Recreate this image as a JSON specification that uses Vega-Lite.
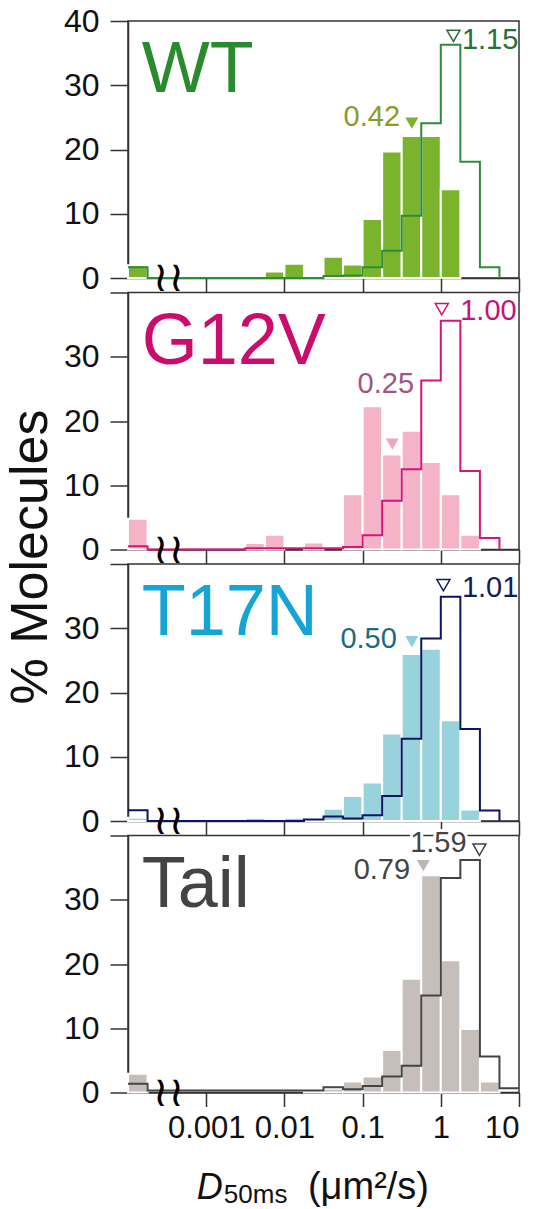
{
 "$schema": "https://vega.github.io/schema/vega-lite/v6.json",
 "padding": {"left": 3, "top": 4, "right": 5, "bottom": 0},
 "background": "white",
 "bounds": "flush",
 "spacing": 14.5,
 "config": {
  "font": "Liberation Sans",
  "view": {"stroke": "#333333", "strokeWidth": 1.5},
  "axis": {"domainColor": "#333333", "domainWidth": 1.5, "tickColor": "#333333", "tickWidth": 1.5, "labelColor": "#111111", "labelFont": "Liberation Sans", "grid": false, "zindex": 1, "titleFont": "Liberation Sans", "titleFontWeight": "normal", "titleColor": "#111111"},
  "axisY": {"tickSize": 18, "labelFontSize": 32, "labelPadding": 11},
  "axisX": {"tickSize": 14, "labelFontSize": 31, "labelPadding": 7},
  "text": {"font": "Liberation Sans"}
 },
 "datasets": {
  "bars": [
   {"panel": "WT", "x": 0.0001, "x2": 0.000177828, "y": 2.0},
   {"panel": "WT", "x": 0.00562341, "x2": 0.01, "y": 1.0},
   {"panel": "WT", "x": 0.01, "x2": 0.0177828, "y": 2.2},
   {"panel": "WT", "x": 0.0316228, "x2": 0.0562341, "y": 3.3},
   {"panel": "WT", "x": 0.0562341, "x2": 0.1, "y": 2.1},
   {"panel": "WT", "x": 0.1, "x2": 0.177828, "y": 9.2},
   {"panel": "WT", "x": 0.177828, "x2": 0.316228, "y": 19.7},
   {"panel": "WT", "x": 0.316228, "x2": 0.562341, "y": 22.1},
   {"panel": "WT", "x": 0.562341, "x2": 1, "y": 22.1},
   {"panel": "WT", "x": 1, "x2": 1.77828, "y": 13.8},
   {"panel": "G12V", "x": 0.0001, "x2": 0.000177828, "y": 4.8},
   {"panel": "G12V", "x": 0.00316228, "x2": 0.00562341, "y": 1.0},
   {"panel": "G12V", "x": 0.00562341, "x2": 0.01, "y": 2.3},
   {"panel": "G12V", "x": 0.0177828, "x2": 0.0316228, "y": 1.1},
   {"panel": "G12V", "x": 0.0562341, "x2": 0.1, "y": 8.6},
   {"panel": "G12V", "x": 0.1, "x2": 0.177828, "y": 22.3},
   {"panel": "G12V", "x": 0.177828, "x2": 0.316228, "y": 14.8},
   {"panel": "G12V", "x": 0.316228, "x2": 0.562341, "y": 18.5},
   {"panel": "G12V", "x": 0.562341, "x2": 1, "y": 13.6},
   {"panel": "G12V", "x": 1, "x2": 1.77828, "y": 8.6},
   {"panel": "G12V", "x": 1.77828, "x2": 3.16228, "y": 2.3},
   {"panel": "T17N", "x": 0.0001, "x2": 0.000177828, "y": 0.5},
   {"panel": "T17N", "x": 0.00316228, "x2": 0.00562341, "y": 0.5},
   {"panel": "T17N", "x": 0.01, "x2": 0.0177828, "y": 0.5},
   {"panel": "T17N", "x": 0.0177828, "x2": 0.0316228, "y": 0.3},
   {"panel": "T17N", "x": 0.0316228, "x2": 0.0562341, "y": 1.9},
   {"panel": "T17N", "x": 0.0562341, "x2": 0.1, "y": 3.9},
   {"panel": "T17N", "x": 0.1, "x2": 0.177828, "y": 6.0},
   {"panel": "T17N", "x": 0.177828, "x2": 0.316228, "y": 13.6},
   {"panel": "T17N", "x": 0.316228, "x2": 0.562341, "y": 26.0},
   {"panel": "T17N", "x": 0.562341, "x2": 1, "y": 26.8},
   {"panel": "T17N", "x": 1, "x2": 1.77828, "y": 15.7},
   {"panel": "T17N", "x": 1.77828, "x2": 3.16228, "y": 1.8},
   {"panel": "Tail", "x": 0.0001, "x2": 0.000177828, "y": 2.9},
   {"panel": "Tail", "x": 0.0177828, "x2": 0.0316228, "y": 0.3},
   {"panel": "Tail", "x": 0.0316228, "x2": 0.0562341, "y": 0.6},
   {"panel": "Tail", "x": 0.0562341, "x2": 0.1, "y": 1.7},
   {"panel": "Tail", "x": 0.1, "x2": 0.177828, "y": 2.5},
   {"panel": "Tail", "x": 0.177828, "x2": 0.316228, "y": 6.6},
   {"panel": "Tail", "x": 0.316228, "x2": 0.562341, "y": 17.7},
   {"panel": "Tail", "x": 0.562341, "x2": 1, "y": 33.8},
   {"panel": "Tail", "x": 1, "x2": 1.77828, "y": 20.6},
   {"panel": "Tail", "x": 1.77828, "x2": 3.16228, "y": 9.9},
   {"panel": "Tail", "x": 3.16228, "x2": 5.62341, "y": 1.7}
  ],
  "steps": [
   {"panel": "WT", "x": 0.0001, "y": 1.66},
   {"panel": "WT", "x": 0.000177828, "y": 0},
   {"panel": "WT", "x": 0.0316228, "y": 0.3},
   {"panel": "WT", "x": 0.0562341, "y": 0.4},
   {"panel": "WT", "x": 0.1, "y": 1.66},
   {"panel": "WT", "x": 0.177828, "y": 4.26},
   {"panel": "WT", "x": 0.316228, "y": 9.7},
   {"panel": "WT", "x": 0.562341, "y": 24.1},
   {"panel": "WT", "x": 1, "y": 36.3},
   {"panel": "WT", "x": 1.77828, "y": 18.1},
   {"panel": "WT", "x": 3.16228, "y": 1.66},
   {"panel": "WT", "x": 5.62341, "y": 0},
   {"panel": "G12V", "x": 0.0001, "y": 0.5},
   {"panel": "G12V", "x": 0.000177828, "y": 0},
   {"panel": "G12V", "x": 0.00316228, "y": 0.2},
   {"panel": "G12V", "x": 0.0562341, "y": 0.4},
   {"panel": "G12V", "x": 0.1, "y": 2.2},
   {"panel": "G12V", "x": 0.177828, "y": 7.6},
   {"panel": "G12V", "x": 0.316228, "y": 12.5},
   {"panel": "G12V", "x": 0.562341, "y": 26.3},
   {"panel": "G12V", "x": 1, "y": 35.6},
   {"panel": "G12V", "x": 1.77828, "y": 12.2},
   {"panel": "G12V", "x": 3.16228, "y": 1.8},
   {"panel": "G12V", "x": 5.62341, "y": 0},
   {"panel": "T17N", "x": 0.0001, "y": 1.67},
   {"panel": "T17N", "x": 0.000177828, "y": 0},
   {"panel": "T17N", "x": 0.0177828, "y": 0.25},
   {"panel": "T17N", "x": 0.0316228, "y": 0.7},
   {"panel": "T17N", "x": 0.0562341, "y": 0.4},
   {"panel": "T17N", "x": 0.1, "y": 0.9},
   {"panel": "T17N", "x": 0.177828, "y": 3.9},
   {"panel": "T17N", "x": 0.316228, "y": 12.8},
   {"panel": "T17N", "x": 0.562341, "y": 28.4},
   {"panel": "T17N", "x": 1, "y": 34.9},
   {"panel": "T17N", "x": 1.77828, "y": 14.3},
   {"panel": "T17N", "x": 3.16228, "y": 1.65},
   {"panel": "T17N", "x": 5.62341, "y": 0},
   {"panel": "Tail", "x": 0.0001, "y": 1.35},
   {"panel": "Tail", "x": 0.000177828, "y": 0.3},
   {"panel": "Tail", "x": 0.0177828, "y": 0.3},
   {"panel": "Tail", "x": 0.0316228, "y": 0.8},
   {"panel": "Tail", "x": 0.0562341, "y": 0.5},
   {"panel": "Tail", "x": 0.1, "y": 1.0},
   {"panel": "Tail", "x": 0.177828, "y": 2.5},
   {"panel": "Tail", "x": 0.316228, "y": 4.15},
   {"panel": "Tail", "x": 0.562341, "y": 15.1},
   {"panel": "Tail", "x": 1, "y": 33.4},
   {"panel": "Tail", "x": 1.77828, "y": 36.2},
   {"panel": "Tail", "x": 3.16228, "y": 5.6},
   {"panel": "Tail", "x": 5.62341, "y": 0.67},
   {"panel": "Tail", "x": 10, "y": 0.67}
  ]
 },
 "vconcat": [
  {
   "width": 391, "height": 257,
   "encoding": {
    "x": {"field": "x", "type": "quantitative", "scale": {"type": "log", "domain": [0.0001, 10]}, "axis": {"values": [0.001, 0.01, 0.1, 1, 10], "labels": false, "title": null}},
    "y": {"field": "y", "type": "quantitative", "scale": {"domain": [0, 40]}, "axis": {"values": [0, 10, 20, 30, 40], "title": null}}
   },
   "layer": [
    {"data": {"name": "bars"}, "transform": [{"filter": "datum.panel === 'WT'"}], "mark": {"type": "bar", "color": "#7ab42c", "stroke": "white", "strokeWidth": 2}, "encoding": {"x2": {"field": "x2"}, "y2": {"datum": 0}}},
    {"data": {"name": "steps"}, "transform": [{"filter": "datum.panel === 'WT'"}], "mark": {"type": "line", "interpolate": "step-after", "color": "#2e8b3a", "strokeWidth": 2}, "encoding": {}},
    {"data": {"values": [{"x": 0.00015, "y": 29, "t": "WT"}]}, "mark": {"type": "text", "align": "left", "baseline": "alphabetic", "fontSize": 72, "color": "#2a8a2e"}, "encoding": {"text": {"field": "t"}}},
    {"data": {"values": [{"x": 0.00033, "y": 0, "t": "≀≀"}]}, "mark": {"type": "text", "align": "center", "baseline": "middle", "fontSize": 42, "font": "DejaVu Sans", "color": "#000000"}, "encoding": {"text": {"field": "t"}}},
    {"data": {"values": [{"x": 0.426, "y": 24.1}]}, "mark": {"type": "point", "shape": "triangle-down", "filled": true, "size": 170, "color": "#7ab42c", "opacity": 1}, "encoding": {}},
    {"data": {"values": [{"x": 1.45, "y": 37.7}]}, "mark": {"type": "point", "shape": "triangle-down", "filled": false, "size": 170, "color": "#2e6e3a", "strokeWidth": 1.5, "opacity": 1}, "encoding": {}},
    {"data": {"values": [{"x": 0.301, "y": 25.0, "t": "0.42"}]}, "mark": {"type": "text", "align": "right", "baseline": "middle", "fontSize": 29, "color": "#8a9a2c"}, "encoding": {"text": {"field": "t"}}},
    {"data": {"values": [{"x": 1.86, "y": 37.0, "t": "1.15"}]}, "mark": {"type": "text", "align": "left", "baseline": "middle", "fontSize": 29, "color": "#2a6e3a"}, "encoding": {"text": {"field": "t"}}}
   ]
  },
  {
   "width": 391, "height": 257,
   "encoding": {
    "x": {"field": "x", "type": "quantitative", "scale": {"type": "log", "domain": [0.0001, 10]}, "axis": {"values": [0.001, 0.01, 0.1, 1, 10], "labels": false, "title": null}},
    "y": {"field": "y", "type": "quantitative", "scale": {"domain": [0, 40]}, "axis": {"values": [0, 10, 20, 30, 40], "labelExpr": "datum.value == 40 ? '' : datum.label", "title": "% Molecules", "titleFontSize": 52, "titleX": -82, "titleY": 264, "titleAngle": -90, "titleAlign": "center", "titleBaseline": "alphabetic"}}
   },
   "layer": [
    {"data": {"name": "bars"}, "transform": [{"filter": "datum.panel === 'G12V'"}], "mark": {"type": "bar", "color": "#f5b3c8", "stroke": "white", "strokeWidth": 2}, "encoding": {"x2": {"field": "x2"}, "y2": {"datum": 0}}},
    {"data": {"name": "steps"}, "transform": [{"filter": "datum.panel === 'G12V'"}], "mark": {"type": "line", "interpolate": "step-after", "color": "#d8147a", "strokeWidth": 2}, "encoding": {}},
    {"data": {"values": [{"x": 0.00015, "y": 28.8, "t": "G12V"}]}, "mark": {"type": "text", "align": "left", "baseline": "alphabetic", "fontSize": 72, "color": "#cc0c6c"}, "encoding": {"text": {"field": "t"}}},
    {"data": {"values": [{"x": 0.00033, "y": 0, "t": "≀≀"}]}, "mark": {"type": "text", "align": "center", "baseline": "middle", "fontSize": 42, "font": "DejaVu Sans", "color": "#000000"}, "encoding": {"text": {"field": "t"}}},
    {"data": {"values": [{"x": 0.24, "y": 16.4}]}, "mark": {"type": "point", "shape": "triangle-down", "filled": true, "size": 170, "color": "#f2a4c0", "opacity": 1}, "encoding": {}},
    {"data": {"values": [{"x": 1.03, "y": 37.4}]}, "mark": {"type": "point", "shape": "triangle-down", "filled": false, "size": 170, "color": "#d0107a", "strokeWidth": 1.5, "opacity": 1}, "encoding": {}},
    {"data": {"values": [{"x": 0.198, "y": 25.7, "t": "0.25"}]}, "mark": {"type": "text", "align": "center", "baseline": "middle", "fontSize": 29, "color": "#a85282"}, "encoding": {"text": {"field": "t"}}},
    {"data": {"values": [{"x": 1.77, "y": 37.1, "t": "1.00"}]}, "mark": {"type": "text", "align": "left", "baseline": "middle", "fontSize": 29, "color": "#c3137a"}, "encoding": {"text": {"field": "t"}}}
   ]
  },
  {
   "width": 391, "height": 257,
   "encoding": {
    "x": {"field": "x", "type": "quantitative", "scale": {"type": "log", "domain": [0.0001, 10]}, "axis": {"values": [0.001, 0.01, 0.1, 1, 10], "labels": false, "title": null}},
    "y": {"field": "y", "type": "quantitative", "scale": {"domain": [0, 40]}, "axis": {"values": [0, 10, 20, 30, 40], "labelExpr": "datum.value == 40 ? '' : datum.label", "title": null}}
   },
   "layer": [
    {"data": {"name": "bars"}, "transform": [{"filter": "datum.panel === 'T17N'"}], "mark": {"type": "bar", "color": "#98d2dc", "stroke": "white", "strokeWidth": 2}, "encoding": {"x2": {"field": "x2"}, "y2": {"datum": 0}}},
    {"data": {"name": "steps"}, "transform": [{"filter": "datum.panel === 'T17N'"}], "mark": {"type": "line", "interpolate": "step-after", "color": "#0c1466", "strokeWidth": 2}, "encoding": {}},
    {"data": {"values": [{"x": 0.00015, "y": 29, "t": "T17N"}]}, "mark": {"type": "text", "align": "left", "baseline": "alphabetic", "fontSize": 72, "color": "#14a4d6"}, "encoding": {"text": {"field": "t"}}},
    {"data": {"values": [{"x": 0.00033, "y": 0, "t": "≀≀"}]}, "mark": {"type": "text", "align": "center", "baseline": "middle", "fontSize": 42, "font": "DejaVu Sans", "color": "#000000"}, "encoding": {"text": {"field": "t"}}},
    {"data": {"values": [{"x": 0.426, "y": 27.9}]}, "mark": {"type": "point", "shape": "triangle-down", "filled": true, "size": 170, "color": "#8fd0dc", "opacity": 1}, "encoding": {}},
    {"data": {"values": [{"x": 1.08, "y": 36.7}]}, "mark": {"type": "point", "shape": "triangle-down", "filled": false, "size": 170, "color": "#101a60", "strokeWidth": 1.5, "opacity": 1}, "encoding": {}},
    {"data": {"values": [{"x": 0.274, "y": 28.4, "t": "0.50"}]}, "mark": {"type": "text", "align": "right", "baseline": "middle", "fontSize": 29, "color": "#1b6a80"}, "encoding": {"text": {"field": "t"}}},
    {"data": {"values": [{"x": 1.86, "y": 36.2, "t": "1.01"}]}, "mark": {"type": "text", "align": "left", "baseline": "middle", "fontSize": 29, "color": "#141a5c"}, "encoding": {"text": {"field": "t"}}}
   ]
  },
  {
   "width": 391, "height": 257,
   "encoding": {
    "x": {"field": "x", "type": "quantitative", "scale": {"type": "log", "domain": [0.0001, 10]}, "axis": {"values": [0.001, 0.01, 0.1, 1, 10], "format": "~g", "title": null}},
    "y": {"field": "y", "type": "quantitative", "scale": {"domain": [0, 40]}, "axis": {"values": [0, 10, 20, 30, 40], "labelExpr": "datum.value == 40 ? '' : datum.label", "title": null}}
   },
   "layer": [
    {"data": {"name": "bars"}, "transform": [{"filter": "datum.panel === 'Tail'"}], "mark": {"type": "bar", "color": "#c5bebb", "stroke": "white", "strokeWidth": 2}, "encoding": {"x2": {"field": "x2"}, "y2": {"datum": 0}}},
    {"data": {"name": "steps"}, "transform": [{"filter": "datum.panel === 'Tail'"}], "mark": {"type": "line", "interpolate": "step-after", "color": "#444444", "strokeWidth": 2}, "encoding": {}},
    {"data": {"values": [{"x": 0.00015, "y": 28.8, "t": "Tail"}]}, "mark": {"type": "text", "align": "left", "baseline": "alphabetic", "fontSize": 72, "color": "#444444"}, "encoding": {"text": {"field": "t"}}},
    {"data": {"values": [{"x": 0.00033, "y": 0, "t": "≀≀"}]}, "mark": {"type": "text", "align": "center", "baseline": "middle", "fontSize": 42, "font": "DejaVu Sans", "color": "#000000"}, "encoding": {"text": {"field": "t"}}},
    {"data": {"values": [{"x": 0.598, "y": 35.3}]}, "mark": {"type": "point", "shape": "triangle-down", "filled": true, "size": 170, "color": "#bdb6b2", "opacity": 1}, "encoding": {}},
    {"data": {"values": [{"x": 3.12, "y": 37.8}]}, "mark": {"type": "point", "shape": "triangle-down", "filled": false, "size": 170, "color": "#444444", "strokeWidth": 1.5, "opacity": 1}, "encoding": {}},
    {"data": {"values": [{"x": 0.405, "y": 34.7, "t": "0.79"}]}, "mark": {"type": "text", "align": "right", "baseline": "middle", "fontSize": 29, "color": "#444444"}, "encoding": {"text": {"field": "t"}}},
    {"data": {"values": [{"x": 0.931, "y": 38.9, "t": "1.59"}]}, "mark": {"type": "text", "align": "center", "baseline": "middle", "fontSize": 29, "color": "white", "stroke": "white", "strokeWidth": 6}, "encoding": {"text": {"field": "t"}}},
    {"data": {"values": [{"x": 0.931, "y": 38.9, "t": "1.59"}]}, "mark": {"type": "text", "align": "center", "baseline": "middle", "fontSize": 29, "color": "#444444"}, "encoding": {"text": {"field": "t"}}},
    {"data": {"values": [{"x": 0.000758, "y": -16.6, "t": "D"}]}, "mark": {"type": "text", "align": "left", "baseline": "alphabetic", "fontSize": 36, "fontStyle": "italic", "color": "#111111"}, "encoding": {"text": {"field": "t"}}},
    {"data": {"values": [{"x": 0.00168, "y": -17.2, "t": "50ms"}]}, "mark": {"type": "text", "align": "left", "baseline": "alphabetic", "fontSize": 26, "color": "#111111"}, "encoding": {"text": {"field": "t"}}},
    {"data": {"values": [{"x": 0.02, "y": -16.6, "t": "(μm²/s)"}]}, "mark": {"type": "text", "align": "left", "baseline": "alphabetic", "fontSize": 38, "color": "#111111"}, "encoding": {"text": {"field": "t"}}}
   ]
  }
 ]
}
